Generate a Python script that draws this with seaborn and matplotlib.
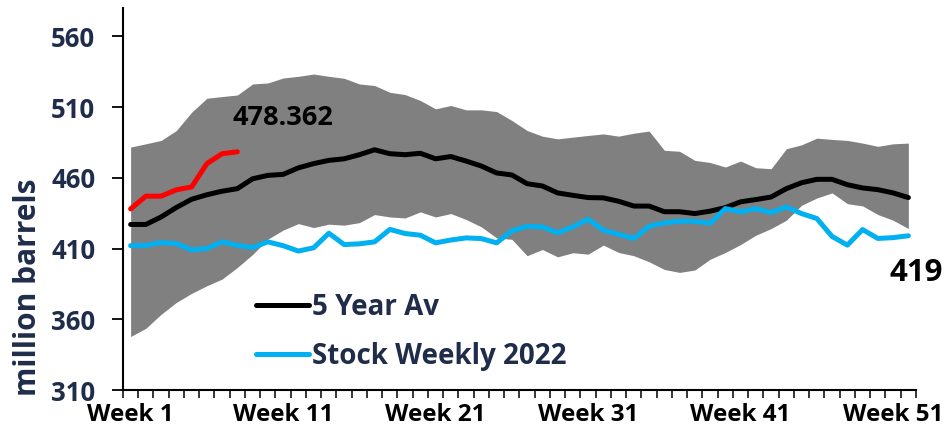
import pandas as pd
import seaborn as sns
import matplotlib.pyplot as plt

# weekly stocks, million barrels
weeks = list(range(1, 53))
week_labels = ['Week 1', 'Week 11', 'Week 21', 'Week 31', 'Week 41', 'Week 51']

band_high = [481.7, 484, 486.4, 493.4, 506.3, 516.2, 517.4, 518.5, 526.3, 527, 530.5, 531.7, 533.3,
             531.7, 530.3, 526.3, 525.2, 520.4, 518.8, 514.6, 508.7, 511.1, 508, 508, 506.8, 500.5,
             493.4, 489.4, 487.5, 488.7, 489.9, 491, 489.4, 491.5, 493, 479.4, 478.7, 472.3, 470.8,
             467.6, 471.8, 467.1, 466.4, 480.5, 483.3, 488, 487.1, 486.4, 484.5, 482.2, 484, 484.5]
band_low = [347.8, 353.6, 363.5, 371.9, 378.3, 383.7, 388.4, 396.6, 405.8, 416.6, 423, 427.6, 424.8,
            427.2, 426.5, 428.3, 434, 432.3, 431.6, 435.9, 432.3, 434.7, 430.5, 425.3, 417.5, 416.5,
            404.9, 409.3, 404.1, 407, 406, 412.4, 407.2, 404.9, 400.6, 395.2, 393.1, 394.8, 402.4,
            407.2, 412.8, 419.4, 424.1, 430, 440.6, 445.7, 449.3, 441.7, 440.1, 434, 430, 424.1]
avg_5y = [427, 427, 432.3, 439, 444.8, 448, 450.5, 452.3, 459.3, 461.7, 462.4, 467, 470,
          472.3, 473.4, 476.3, 479.8, 477, 476.3, 477.3, 473.4, 475, 471.8, 468.3, 463.4, 462,
          455.8, 454.2, 449.3, 447.6, 446, 445.8, 443.4, 440, 440, 436, 436, 434.7, 436.4,
          438.9, 443, 444.6, 446.4, 452.3, 456.5, 458.9, 458.9, 455.1, 452.8, 451.6, 449.3, 446]
stock_2022 = [412, 412.2, 414.2, 413.5, 409, 410, 414.7, 412.2, 410.7, 414.7, 412, 408.2, 410.5,
              420.8, 412.8, 413.3, 414.7, 423.5, 420.6, 419.4, 414, 416, 417.5, 417, 414, 422.5,
              425.7, 425.3, 421.1, 425.3, 430.7, 423, 420, 417.1, 425.7, 428.1, 429.3, 429.3, 427.8,
              438.2, 435.9, 438.2, 435.4, 439.4, 434.7, 431.2, 418.5, 412.4, 423.4, 417.1, 417.7, 419]
stock_2023 = [438, 447, 447, 451.5, 453.5, 470, 477, 478.362]

df = pd.DataFrame({'week': weeks, 'low': band_low, 'high': band_high,
                   'avg': avg_5y, 's2022': stock_2022})
df23 = pd.DataFrame({'week': weeks[:len(stock_2023)], 's2023': stock_2023})

sns.set_style('ticks')
plt.rcParams['font.family'] = ['Open Sans', 'DejaVu Sans']
plt.rcParams['font.weight'] = 'bold'
navy = '#1F2D4A'

fig = plt.figure(figsize=(9.49, 4.36), dpi=100)
ax = fig.add_axes([0.1296, 0.1055, 0.8356, 0.8762])

ax.fill_between(df['week'], df['low'], df['high'], color='#808080', lw=0)
sns.lineplot(data=df, x='week', y='avg', color='black', lw=3.6, label='5 Year Av', ax=ax)
sns.lineplot(data=df, x='week', y='s2022', color='#00B0F0', lw=3.6, label='Stock Weekly 2022', ax=ax)
sns.lineplot(data=df23, x='week', y='s2023', color='#FF0000', lw=3.6, ax=ax)

ax.text(11, 502.5, '478.362', ha='center', va='center', fontsize=19.5, fontweight='bold', color='black')
ax.text(52.5, 392.5, '419', ha='center', va='center', fontsize=22.5, fontweight='bold',
        color='black', clip_on=False)

ax.set_xlim(0.5, 52.5)
ax.set_ylim(310, 580)
ax.set_yticks(range(310, 561, 50))
ax.set_xticks([1, 11, 21, 31, 41, 51])
ax.set_xticklabels(week_labels)
ax.set_xticks([w + 0.5 for w in range(0, 53)], minor=True)
ax.tick_params(axis='x', which='major', length=0, pad=9, labelsize=17.5, labelcolor='black')
ax.tick_params(axis='x', which='minor', length=6, width=1.1, color='black', direction='out')
ax.tick_params(axis='y', length=8, width=1.3, color='black', labelsize=18.5, labelcolor=navy, pad=12)
for t in ax.get_xticklabels() + ax.get_yticklabels():
    t.set_fontweight('bold')

ax.set_xlabel('')
ax.set_ylabel('million barrels', fontsize=21.5, fontweight='bold', color=navy)
ax.yaxis.set_label_coords(-0.101, 0.27)

sns.despine(ax=ax)
ax.spines['left'].set_linewidth(1.5)
ax.spines['bottom'].set_linewidth(1.5)
ax.spines['left'].set_color('black')
ax.spines['bottom'].set_color('black')

leg = ax.legend(loc='center left', bbox_to_anchor=(0.168, 0.152), frameon=False,
                fontsize=20, handlelength=1.9, handletextpad=0.1, labelspacing=0.7,
                borderpad=0, borderaxespad=0)
for t in leg.get_texts():
    t.set_color(navy)
    t.set_fontweight('bold')

fig.savefig('out.png', dpi=100)
